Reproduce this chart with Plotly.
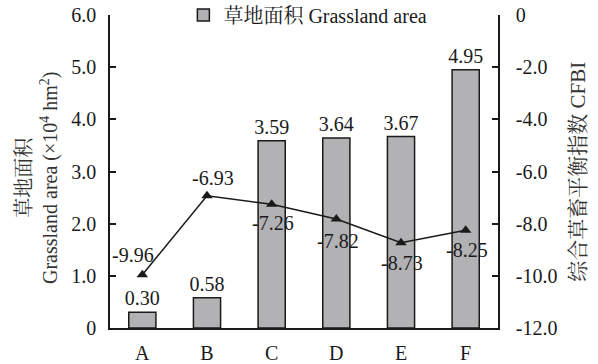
import plotly.graph_objects as go

categories = ["A", "B", "C", "D", "E", "F"]
grassland_area = [0.30, 0.58, 3.59, 3.64, 3.67, 4.95]
cfbi = [-9.96, -6.93, -7.26, -7.82, -8.73, -8.25]
left_ticks = [0, 1, 2, 3, 4, 5, 6]
left_ticktext = ["0", "1.0", "2.0", "3.0", "4.0", "5.0", "6.0"]
right_ticks = [0, -2, -4, -6, -8, -10, -12]
right_ticktext = ["0", "-2.0", "-4.0", "-6.0", "-8.0", "-10.0", "-12.0"]

FONT = "Liberation Serif, Times New Roman, Noto Serif CJK SC, Noto Sans CJK SC, serif"
FS = 20

fig = go.Figure()
fig.add_trace(go.Bar(
    x=categories, y=grassland_area, name="草地面积 Grassland area",
    marker=dict(color="#b2b2b5", line=dict(color="#1a1a1a", width=1.5)),
    width=0.42,
    texttemplate="%{y:.2f}", textposition="outside", constraintext="none",
    textfont=dict(family=FONT, size=FS, color="#1a1a1a"),
    cliponaxis=False,
))
fig.add_trace(go.Scatter(
    x=categories, y=cfbi, yaxis="y2", mode="lines+markers", showlegend=False,
    line=dict(color="#1a1a1a", width=1.5),
    marker=dict(symbol="triangle-up", size=10, color="#1a1a1a"),
    cliponaxis=False,
))

# point labels for CFBI
offsets = [(-9, 20), (6, 18), (1, -19), (2, -22), (1, -20), (1, -20)]
for c, v, (dx, dy) in zip(categories, cfbi, offsets):
    fig.add_annotation(x=c, y=v, xref="x", yref="y2", text=f"{v:.2f}",
                       showarrow=False, xshift=dx, yshift=dy,
                       font=dict(family=FONT, size=FS, color="#1a1a1a"))

# axis titles
fig.add_annotation(xref="paper", yref="paper", x=-0.185, y=0.48,
                   xanchor="center", yanchor="middle",
                   text="草地面积<br>Grassland area (×10<sup>4</sup> hm<sup>2</sup>)",
                   textangle=-90, showarrow=False, align="center",
                   font=dict(family=FONT, size=FS, color="#333333"))
fig.add_annotation(xref="paper", yref="paper", x=1.204, y=0.50,
                   xanchor="center", yanchor="middle",
                   text="综合草畜平衡指数 CFBI",
                   textangle=-90, showarrow=False,
                   font=dict(family=FONT, size=FS + 1, color="#333333"))

axis_common = dict(showline=True, linecolor="#1a1a1a", linewidth=1.5,
                   showgrid=False, zeroline=False,
                   tickfont=dict(family=FONT, size=FS, color="#1a1a1a"))

fig.update_layout(
    width=598, height=364,
    margin=dict(l=110, r=100, t=15, b=36, autoexpand=False),
    paper_bgcolor="white", plot_bgcolor="white",
    font=dict(family=FONT, size=FS, color="#1a1a1a"),
    xaxis=dict(**axis_common, ticks="", ticklabelstandoff=6,
               range=[-0.5, 5.5]),
    yaxis=dict(**axis_common, range=[0, 6], tickvals=left_ticks,
               ticktext=left_ticktext, ticks="inside", ticklen=6,
               tickcolor="#1a1a1a", tickwidth=1.5, ticklabelstandoff=8),
    yaxis2=dict(**axis_common, range=[-12, 0], overlaying="y", side="right",
                tickvals=right_ticks, ticktext=right_ticktext,
                ticks="inside", ticklen=6, tickcolor="#1a1a1a", tickwidth=1.5,
                ticklabelstandoff=12),
    legend=dict(orientation="h", x=0.51, y=1.0, xanchor="center",
                yanchor="middle", bgcolor="rgba(255,255,255,0)",
                font=dict(family=FONT, size=FS, color="#1a1a1a")),
    showlegend=True,
)

fig.write_html("out.html", config={"displayModeBar": False},
               post_script="document.body.style.margin='0';document.body.style.padding='0';")
